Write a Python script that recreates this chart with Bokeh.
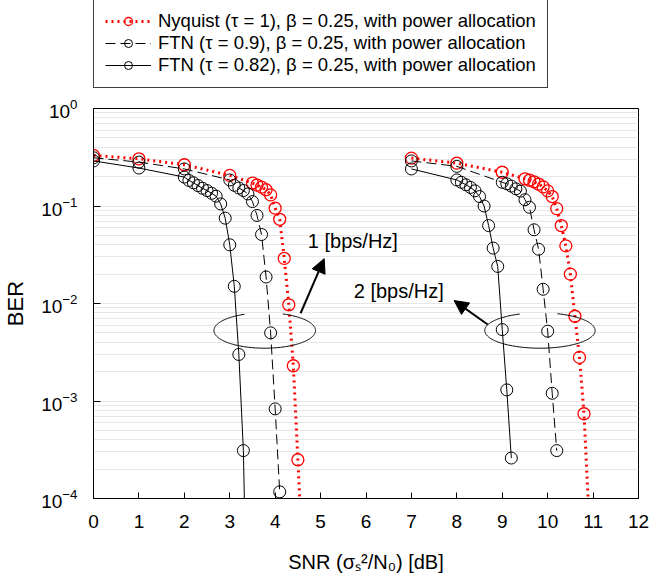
import numpy as np
from bokeh.plotting import figure
from bokeh.layouts import column
from bokeh.models import (Legend, LegendItem, FixedTicker, Arrow, NormalHead, Label,
                          ColumnDataSource)
from bokeh.embed import file_html
from bokeh.resources import INLINE

# ---- data ----
snr_nyq_1 = [0, 1, 2, 3, 3.5, 3.6, 3.7, 3.8, 3.9, 4.0, 4.1, 4.2, 4.3, 4.4, 4.5, 4.6]
ber_nyq_1 = [0.33, 0.305, 0.265, 0.206, 0.172, 0.164, 0.156, 0.147, 0.13, 0.095, 0.073,
             0.029, 0.0097, 0.0023, 2.5e-4, 2.5e-5]

snr_ftn09_1 = [0, 1, 2, 3.0, 3.1, 3.2, 3.3, 3.4, 3.5, 3.6, 3.7, 3.8, 3.9, 4.0, 4.1]
ber_ftn09_1 = [0.312, 0.282, 0.24, 0.185, 0.163, 0.153, 0.144, 0.133, 0.111, 0.080, 0.051,
               0.0187, 0.005, 8.3e-4, 1.17e-4]

snr_ftn082_1 = [0, 1, 2.0, 2.1, 2.2, 2.3, 2.4, 2.5, 2.6, 2.7, 2.8, 2.9, 3.0, 3.1, 3.2, 3.3, 3.4]
ber_ftn082_1 = [0.29, 0.245, 0.198, 0.183, 0.173, 0.162, 0.152, 0.144, 0.135, 0.126, 0.105,
                0.075, 0.040, 0.015, 0.003, 3.1e-4, 1.5e-6]

snr_nyq_2 = [7, 8, 9, 9.5, 9.6, 9.7, 9.8, 9.9, 10.0, 10.1, 10.2, 10.3, 10.4, 10.5, 10.6, 10.7,
             10.8, 10.9]
ber_nyq_2 = [0.31, 0.275, 0.222, 0.19, 0.184, 0.177, 0.168, 0.157, 0.143, 0.125, 0.094, 0.063,
             0.039, 0.02, 0.0074, 0.0028, 7.4e-4, 8e-5]

snr_ftn09_2 = [7, 8, 9.0, 9.1, 9.2, 9.3, 9.4, 9.5, 9.6, 9.7, 9.8, 9.9, 10.0, 10.1, 10.2]
ber_ftn09_2 = [0.29, 0.255, 0.175, 0.169, 0.16, 0.15, 0.142, 0.116, 0.097, 0.057, 0.036, 0.014,
               0.0052, 0.0012, 3.1e-4]

snr_ftn082_2 = [7, 8.0, 8.1, 8.2, 8.3, 8.4, 8.5, 8.6, 8.7, 8.8, 8.9, 9.0, 9.1, 9.2]
ber_ftn082_2 = [0.24, 0.185, 0.175, 0.165, 0.155, 0.143, 0.125, 0.100, 0.063, 0.037, 0.024,
                0.0054, 0.0013, 2.6e-4]

x_ticks = list(range(0, 13))
y_ticks = [1e-4, 1e-3, 1e-2, 1e-1, 1.0]
y_minor = [m * 10.0 ** e for e in range(-4, 0) for m in range(2, 10)]

legend_labels = [
    "Nyquist (\u03c4 = 1), \u03b2 = 0.25, with power allocation",
    "FTN (\u03c4 = 0.9), \u03b2 = 0.25, with power allocation",
    "FTN (\u03c4 = 0.82), \u03b2 = 0.25, with power allocation",
]

FONT = "Liberation Sans"
RED = "#ff0000"
STYLES = [(RED, "2 4", 3, 1.3), ("black", "10 5", 1, 1), ("black", "solid", 1, 1)]

# ---------------- main plot ----------------
p = figure(width=652, height=490, y_axis_type="log", x_range=(0, 12), y_range=(1e-4, 1),
           output_backend="svg", toolbar_location=None,
           min_border_left=93, min_border_right=14, min_border_top=18, min_border_bottom=82)

p.outline_line_color = "black"
p.outline_line_width = 1
p.background_fill_color = "white"

p.xaxis.ticker = FixedTicker(ticks=x_ticks)
p.yaxis.ticker = FixedTicker(ticks=y_ticks, minor_ticks=y_minor)
for ax in (p.xaxis, p.yaxis):
    ax.major_tick_in = 6
    ax.major_tick_out = 0
    ax.minor_tick_line_color = None
    ax.axis_line_color = "black"
    ax.major_tick_line_color = "black"
    ax.major_label_text_font = FONT
    ax.major_label_text_font_size = "19px"
    ax.major_label_text_color = "black"
    ax.axis_label_text_font = FONT
    ax.axis_label_text_font_style = "normal"
    ax.axis_label_text_color = "black"
p.yaxis.major_tick_in = 7
p.xaxis.major_label_standoff = 16
p.yaxis.major_label_standoff = 12
p.xaxis.axis_label = "SNR (\u03c3\u209b\u00b2/N\u2080) [dB]"
p.xaxis.axis_label_text_font_size = "20px"
p.xaxis.axis_label_standoff = 20
p.yaxis.axis_label = "BER"
p.yaxis.axis_label_text_font_size = "22px"
p.yaxis.axis_label_standoff = 10

p.xgrid.grid_line_color = None
p.ygrid.grid_line_color = "#e6e6e6"
p.ygrid.minor_grid_line_color = "#e6e6e6"


def series(fig, xs, ys, style):
    color, dash, width, mlw = style
    src = ColumnDataSource(dict(x=xs, y=ys))
    ln = fig.line("x", "y", source=src, line_color=color, line_dash=dash, line_width=width)
    mk = fig.scatter("x", "y", source=src, marker="circle", size=12, fill_color=None,
                     line_color=color, line_width=mlw)
    return [ln, mk]

series(p, snr_nyq_1, ber_nyq_1, STYLES[0])
series(p, snr_nyq_2, ber_nyq_2, STYLES[0])
series(p, snr_ftn09_1, ber_ftn09_1, STYLES[1])
series(p, snr_ftn09_2, ber_ftn09_2, STYLES[1])
series(p, snr_ftn082_1, ber_ftn082_1, STYLES[2])
series(p, snr_ftn082_2, ber_ftn082_2, STYLES[2])

# ellipses marking the curve groups (elliptical arcs in log space)
def ell(cx, clog, a, b, gap_lo, gap_hi):
    t = np.radians(np.linspace(gap_lo, 360 + gap_hi, 200))
    xs = cx + a * np.cos(t)
    ys = 10 ** (clog + b * np.sin(t))
    p.line(xs, ys, line_color="black", line_width=1)

ell(3.77, -2.277, 1.118, 0.1815, 113.4, 69.1)
ell(9.83, -2.277, 1.215, 0.1815, 111.5, 71.5)

p.add_layout(Arrow(end=NormalHead(size=14, fill_color="black", line_color="black"),
                   x_start=4.56, y_start=10 ** -2.10, x_end=5.08, y_end=10 ** -1.54,
                   line_width=2, line_color="black"))
p.add_layout(Arrow(end=NormalHead(size=14, fill_color="black", line_color="black"),
                   x_start=8.68, y_start=10 ** -2.215, x_end=7.94, y_end=10 ** -1.97,
                   line_width=2, line_color="black"))
p.add_layout(Label(x=4.72, y=10 ** -1.364, text="1 [bps/Hz]", text_font=FONT,
                   text_font_size="20px", text_baseline="middle", text_color="black"))
p.add_layout(Label(x=5.73, y=10 ** -1.867, text="2 [bps/Hz]", text_font=FONT,
                   text_font_size="20px", text_baseline="middle", text_color="black"))

# ---------------- legend strip above the plot ----------------
# the series are re-plotted here outside the visible range so that the legend can
# show their line + marker styles
lf = figure(width=652, height=90, x_range=(100, 101), y_range=(100, 101),
            output_backend="svg", toolbar_location=None,
            x_axis_location=None, y_axis_location=None,
            min_border_left=0, min_border_right=0, min_border_top=0, min_border_bottom=0)
lf.outline_line_color = None
lf.xgrid.grid_line_color = None
lf.ygrid.grid_line_color = None

items = []
for lab, st, (xs, ys) in zip(legend_labels, STYLES,
                             [(snr_nyq_1, ber_nyq_1), (snr_ftn09_1, ber_ftn09_1),
                              (snr_ftn082_1, ber_ftn082_1)]):
    rs = series(lf, xs, ys, st)
    items.append(LegendItem(label=lab, renderers=rs))

legend = Legend(items=items, location=(0, 2))
legend.glyph_width = 46
legend.glyph_height = 20
legend.label_height = 20
legend.spacing = 0
legend.padding = 11
legend.margin = 0
legend.label_standoff = 7
legend.label_text_font = FONT
legend.label_text_font_size = "18.5px"
legend.label_text_color = "black"
legend.border_line_color = "#404040"
legend.border_line_alpha = 1
legend.border_line_width = 1
legend.background_fill_alpha = 1
lf.add_layout(legend, "center")

layout = column(lf, p, spacing=0)
open("out.html", "w").write(file_html(layout, INLINE))
